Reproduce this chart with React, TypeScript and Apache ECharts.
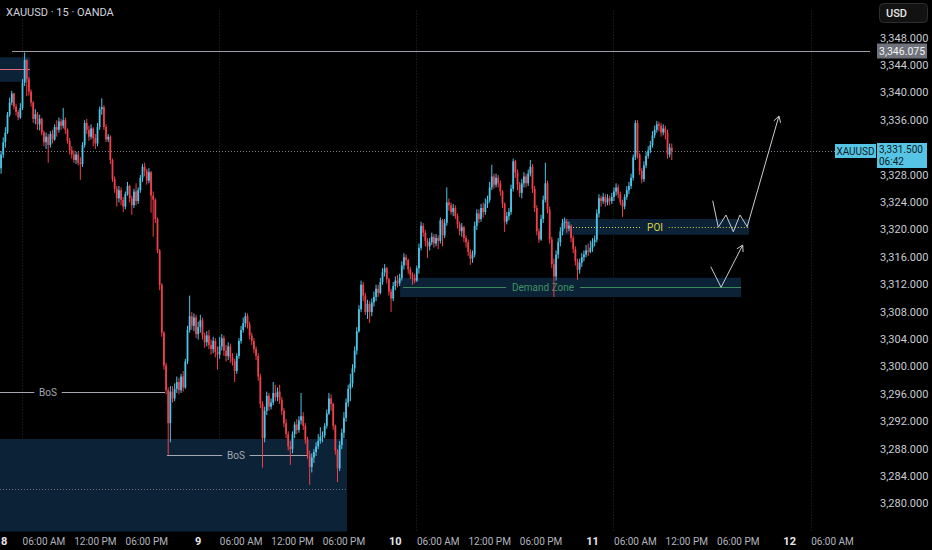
import React, { useEffect, useRef } from "react";
import * as echarts from "echarts";

// ---------- data (15-minute candles, XAUUSD, OANDA) ----------
const FIRST_OPEN = 3329.0;
const closes = [
  3331.0, 3332.8, 3334.2, 3336.8, 3338.6, 3339.9, 3338.0, 3337.2, 3336.4, 3337.8,
  3341.5, 3344.8, 3342.0, 3340.2, 3338.6, 3336.2, 3336.9, 3335.4, 3336.2, 3334.2,
  3332.8, 3333.6, 3332.4, 3334.0, 3333.2, 3335.0, 3334.6, 3335.8, 3335.2, 3336.0,
  3334.6, 3333.0, 3331.6, 3331.0, 3330.2, 3331.0, 3329.8, 3329.6, 3332.4, 3335.6,
  3334.6, 3333.6, 3334.8, 3333.4, 3332.6, 3335.0, 3337.6, 3337.9, 3335.0, 3333.2,
  3333.6, 3330.2, 3327.4, 3326.0, 3324.6, 3325.8, 3324.4, 3323.4, 3325.2, 3326.4,
  3324.6, 3323.6, 3325.6, 3324.2, 3325.8, 3327.6, 3329.2, 3328.6, 3327.2, 3328.4,
  3325.0, 3324.4, 3321.6, 3317.0, 3312.0, 3305.0, 3300.2, 3296.6, 3291.8, 3296.4,
  3295.4, 3296.8, 3297.8, 3296.6, 3298.6, 3297.0, 3300.8, 3305.4, 3307.4, 3306.0,
  3307.2, 3304.8, 3305.8, 3306.8, 3304.6, 3303.6, 3304.6, 3303.2, 3302.6, 3303.8,
  3302.2, 3301.8, 3303.0, 3304.2, 3302.4, 3301.6, 3303.0, 3301.4, 3300.8, 3299.4,
  3301.6, 3303.8, 3305.4, 3306.4, 3307.4, 3306.2, 3304.6, 3303.8, 3302.6, 3301.6,
  3298.6, 3294.6, 3289.6, 3293.6, 3295.8, 3294.2, 3294.8, 3296.2, 3295.6, 3296.4,
  3295.2, 3293.6, 3291.8, 3290.2, 3288.4, 3288.0, 3290.2, 3291.6, 3290.8, 3292.2,
  3292.8, 3291.4, 3289.4, 3287.2, 3285.4, 3286.8, 3287.6, 3288.4, 3289.2, 3289.8,
  3290.0, 3291.4, 3293.2, 3295.4, 3294.6, 3291.4, 3287.8, 3285.2, 3288.6, 3290.4,
  3292.6, 3294.8, 3296.8, 3297.6, 3299.8, 3302.4, 3305.2, 3308.4, 3312.0, 3310.4,
  3308.0, 3309.2, 3308.0, 3309.4, 3310.2, 3311.4, 3310.8, 3312.4, 3313.8, 3314.4,
  3312.8, 3311.0, 3310.0, 3311.8, 3312.6, 3312.2, 3313.0, 3314.8, 3316.0, 3315.6,
  3314.2, 3313.4, 3313.0, 3312.6, 3314.4, 3317.4, 3320.6, 3319.6, 3318.4, 3317.6,
  3318.2, 3319.0, 3318.0, 3318.8, 3318.4, 3321.4, 3319.2, 3321.0, 3324.0, 3323.6,
  3322.6, 3323.2, 3322.0, 3320.8, 3319.8, 3320.4, 3318.8, 3318.2, 3316.8, 3315.8,
  3316.4, 3320.6, 3322.4, 3321.6, 3323.2, 3322.6, 3323.8, 3324.4, 3326.2, 3327.8,
  3326.6, 3327.6, 3326.8, 3325.6, 3323.8, 3321.2, 3322.0, 3322.6, 3326.0, 3330.0,
  3328.4, 3326.6, 3325.4, 3326.8, 3327.8, 3326.8, 3328.2, 3329.2, 3326.0, 3323.2,
  3319.8, 3318.6, 3321.6, 3324.4, 3326.8, 3323.0, 3318.6, 3315.0, 3313.2, 3316.4,
  3318.2, 3319.8, 3321.0, 3321.2, 3320.2, 3320.6, 3318.8, 3317.2, 3315.4, 3314.2,
  3315.2, 3316.0, 3316.4, 3317.0, 3316.8, 3317.4, 3318.2, 3318.6, 3322.4, 3324.6,
  3324.2, 3324.8, 3324.0, 3324.6, 3324.2, 3324.8, 3325.6, 3326.2, 3325.2, 3324.0,
  3323.4, 3324.8, 3325.8, 3326.4, 3327.6, 3330.6, 3335.6, 3331.0, 3328.6, 3327.4,
  3329.4, 3330.8, 3331.6, 3332.4, 3333.8, 3334.6, 3335.4, 3335.2, 3334.2, 3334.8,
  3334.2, 3331.0, 3332.0, 3331.5,
];
const highs = [
  3331.5, 3333.5, 3335.0, 3337.2, 3339.3, 3340.3, 3340.0, 3338.4, 3337.5, 3338.5,
  3342.0, 3345.9, 3344.9, 3342.3, 3340.5, 3338.8, 3337.6, 3337.2, 3336.8, 3336.4,
  3334.5, 3334.2, 3334.0, 3334.4, 3334.6, 3335.4, 3336.0, 3336.4, 3336.2, 3337.8,
  3336.4, 3334.8, 3333.4, 3332.2, 3331.6, 3331.4, 3331.4, 3330.6, 3332.8, 3336.0,
  3336.2, 3335.2, 3335.4, 3335.0, 3334.0, 3335.6, 3338.0, 3339.2, 3338.2, 3335.4,
  3334.0, 3333.8, 3330.4, 3327.8, 3326.4, 3326.4, 3326.2, 3324.8, 3325.6, 3327.0,
  3326.6, 3325.0, 3326.0, 3326.8, 3326.2, 3328.0, 3329.6, 3329.8, 3328.9, 3329.0,
  3328.6, 3325.6, 3324.6, 3321.8, 3317.2, 3312.2, 3305.2, 3300.6, 3297.0, 3297.2,
  3297.2, 3297.6, 3298.6, 3298.4, 3299.0, 3299.4, 3301.2, 3306.0, 3310.4, 3308.0,
  3307.8, 3307.6, 3306.6, 3307.6, 3307.2, 3305.0, 3305.2, 3305.4, 3304.0, 3304.4,
  3304.2, 3303.0, 3304.4, 3304.8, 3304.6, 3303.2, 3303.6, 3303.4, 3302.0, 3301.2,
  3302.0, 3304.2, 3306.0, 3307.2, 3307.9, 3307.8, 3306.6, 3305.0, 3304.2, 3303.0,
  3302.0, 3299.0, 3295.0, 3294.2, 3296.4, 3296.2, 3295.4, 3297.8, 3297.4, 3297.0,
  3297.4, 3295.6, 3294.0, 3292.4, 3290.6, 3289.2, 3290.6, 3292.0, 3292.4, 3292.8,
  3296.2, 3293.4, 3291.8, 3289.8, 3287.8, 3287.4, 3288.0, 3289.0, 3290.2, 3291.2,
  3290.6, 3291.8, 3293.8, 3296.2, 3296.0, 3294.8, 3291.6, 3288.0, 3289.2, 3291.0,
  3293.4, 3295.4, 3297.4, 3299.0, 3300.4, 3303.0, 3305.8, 3309.0, 3312.6, 3312.4,
  3310.8, 3309.8, 3309.6, 3310.0, 3311.0, 3312.0, 3312.0, 3313.0, 3314.4, 3315.0,
  3314.6, 3313.0, 3311.4, 3312.4, 3313.2, 3313.4, 3313.6, 3315.4, 3316.6, 3316.4,
  3315.8, 3314.6, 3313.8, 3313.6, 3314.8, 3318.0, 3321.2, 3321.0, 3320.0, 3318.8,
  3318.8, 3319.6, 3319.4, 3319.4, 3319.2, 3321.8, 3321.6, 3321.6, 3326.2, 3324.6,
  3324.0, 3323.8, 3323.6, 3322.4, 3321.2, 3321.0, 3320.6, 3319.2, 3318.6, 3317.2,
  3317.0, 3321.2, 3323.0, 3323.0, 3323.8, 3324.0, 3324.6, 3325.0, 3327.0, 3329.5,
  3328.2, 3328.2, 3328.0, 3327.2, 3325.8, 3324.0, 3322.6, 3323.2, 3326.6, 3330.4,
  3330.2, 3328.8, 3327.0, 3327.4, 3328.4, 3328.2, 3328.8, 3330.2, 3329.6, 3326.4,
  3323.6, 3320.2, 3322.2, 3325.0, 3329.8, 3327.2, 3323.4, 3319.0, 3315.8, 3317.0,
  3318.8, 3320.4, 3321.6, 3321.8, 3321.6, 3321.2, 3320.8, 3319.2, 3317.6, 3315.8,
  3315.8, 3316.6, 3317.0, 3317.8, 3318.0, 3318.4, 3318.8, 3319.2, 3323.0, 3325.2,
  3325.0, 3325.4, 3325.2, 3325.2, 3325.0, 3325.4, 3326.2, 3326.8, 3326.6, 3325.6,
  3324.4, 3325.2, 3326.4, 3327.0, 3328.2, 3331.0, 3336.0, 3336.0, 3331.2, 3329.0,
  3330.0, 3331.4, 3332.2, 3333.0, 3334.4, 3335.2, 3335.9, 3335.8, 3335.6, 3335.4,
  3335.2, 3334.6, 3332.6, 3332.6,
];
const lows = [
  3328.2, 3330.5, 3332.0, 3334.0, 3336.5, 3338.2, 3337.6, 3336.7, 3336.0, 3336.2,
  3337.5, 3341.0, 3339.5, 3339.6, 3338.0, 3335.6, 3335.4, 3334.6, 3334.5, 3333.8,
  3332.2, 3331.8, 3329.8, 3332.0, 3332.6, 3333.0, 3333.6, 3334.2, 3334.6, 3334.8,
  3334.0, 3332.6, 3331.0, 3330.4, 3329.8, 3329.6, 3329.4, 3327.3, 3329.2, 3332.0,
  3334.0, 3333.0, 3333.2, 3332.2, 3331.8, 3332.2, 3334.6, 3336.8, 3334.6, 3332.8,
  3332.8, 3329.6, 3327.0, 3325.4, 3323.4, 3324.0, 3323.6, 3322.6, 3323.0, 3325.0,
  3324.0, 3322.2, 3323.2, 3323.6, 3323.8, 3325.4, 3327.0, 3327.8, 3326.6, 3326.8,
  3322.5, 3319.0, 3321.0, 3316.6, 3311.2, 3304.4, 3299.6, 3296.0, 3287.2, 3289.0,
  3294.8, 3295.0, 3296.2, 3296.0, 3296.2, 3296.4, 3296.8, 3300.4, 3305.0, 3305.4,
  3305.2, 3304.2, 3304.0, 3305.0, 3304.0, 3302.8, 3303.0, 3302.6, 3301.8, 3302.0,
  3301.4, 3299.6, 3301.2, 3302.4, 3301.6, 3300.8, 3301.0, 3300.6, 3300.2, 3297.8,
  3299.0, 3301.2, 3303.4, 3305.0, 3305.8, 3305.6, 3304.0, 3303.2, 3302.0, 3301.0,
  3298.0, 3294.0, 3285.3, 3289.0, 3293.0, 3293.6, 3293.8, 3294.4, 3295.0, 3295.0,
  3294.6, 3293.0, 3291.2, 3289.6, 3287.8, 3285.7, 3287.4, 3289.6, 3290.2, 3290.4,
  3291.6, 3290.8, 3288.8, 3286.6, 3282.8, 3284.6, 3286.0, 3287.0, 3288.0, 3288.8,
  3289.0, 3289.6, 3291.0, 3293.0, 3293.6, 3290.8, 3287.2, 3283.2, 3284.8, 3288.0,
  3289.6, 3292.0, 3294.2, 3295.0, 3297.0, 3299.2, 3301.8, 3305.0, 3308.0, 3309.6,
  3307.6, 3307.0, 3306.4, 3307.4, 3308.8, 3309.6, 3310.2, 3310.6, 3312.0, 3313.2,
  3312.2, 3310.4, 3308.0, 3309.6, 3311.2, 3311.6, 3311.8, 3312.6, 3314.2, 3314.8,
  3313.6, 3312.8, 3312.0, 3312.2, 3312.4, 3313.6, 3317.0, 3319.0, 3317.6, 3315.9,
  3317.0, 3317.8, 3317.4, 3317.6, 3317.2, 3318.0, 3317.6, 3318.8, 3320.6, 3322.8,
  3322.2, 3322.0, 3321.6, 3320.2, 3319.2, 3319.0, 3318.2, 3317.4, 3316.2, 3314.9,
  3315.2, 3316.0, 3320.0, 3321.0, 3321.2, 3321.8, 3322.2, 3323.2, 3324.0, 3325.8,
  3326.0, 3326.2, 3326.2, 3325.0, 3323.2, 3319.7, 3320.8, 3321.4, 3322.2, 3325.6,
  3327.6, 3325.8, 3324.8, 3324.6, 3326.2, 3326.2, 3326.4, 3327.8, 3325.4, 3322.6,
  3319.2, 3318.1, 3318.4, 3321.0, 3324.0, 3322.4, 3318.0, 3314.4, 3310.2, 3312.6,
  3315.8, 3317.6, 3319.2, 3320.2, 3319.6, 3319.8, 3318.2, 3316.6, 3314.8, 3312.7,
  3313.6, 3314.6, 3315.4, 3316.0, 3316.2, 3316.6, 3316.8, 3317.6, 3318.2, 3321.8,
  3323.4, 3323.8, 3323.4, 3323.6, 3323.6, 3323.8, 3324.2, 3325.0, 3324.6, 3323.6,
  3321.9, 3323.0, 3324.4, 3325.2, 3326.0, 3327.2, 3330.2, 3330.4, 3328.0, 3326.8,
  3327.0, 3329.0, 3330.4, 3331.2, 3332.0, 3333.4, 3334.2, 3334.4, 3333.6, 3333.8,
  3333.2, 3330.4, 3330.6, 3330.2,
];

// time axis: 92 bars per trading day (23h), slots incl. empty future space
const TOTAL_SLOTS = 406;
const BARS_PER_DAY = 92;
const FIRST_DAY = 8;
const TIME_LABELS: Record<number, string> = { 20: "06:00 AM", 44: "12:00 PM", 68: "06:00 PM" };

// price axis
const Y_MIN = 3276;
const Y_MAX = 3352;
const Y_STEP = 4;
const Y_LABEL_MIN = 3280;
const Y_LABEL_MAX = 3348;

const LAST_PRICE = 3331.5;
const LAST_PRICE_TEXT = "3,331.500";
const COUNTDOWN = "06:42";
const RESISTANCE = 3346.075;
const SYMBOL = "XAUUSD";

// drawings, in (bar index, price)
const zones = [
  { x0: -0.5, x1: 13.5, y0: 3341.6, y1: 3345.2 },
  { x0: -0.5, x1: 161.4, y0: 3276, y1: 3289.5 },
  { x0: 186.2, x1: 345.3, y0: 3310.2, y1: 3313.0 },
  { x0: 261.8, x1: 349.0, y0: 3319.3, y1: 3321.6 },
];
const bosLevels = [
  { x0: -0.5, x1: 76.5, y: 3296.3, tx: 21.9 },
  { x0: 77.4, x1: 142.8, y: 3287.2, tx: 109.6 },
];
const DEMAND = { x0: 187.6, x1: 345.3, y: 3311.7, tx: 252.9 };
const POI = { x0: 265.5, x1: 349.0, y: 3320.4, tx: 305.2 };
const TOPLEFT_LINE = { x0: -0.5, x1: 13.5, y: 3343.5 };
const BOX_DOTTED = { x0: -0.5, x1: 161.4, y: 3282.2 };
const RES_START = 5.1;
const sessionLines = [9.75, 101.75, 193.75, 285.75, 377.75];
const pathA = [
  [332.1, 3324.26], [334.7, 3320.38], [338.3, 3322.17], [341.7, 3319.73],
  [344.8, 3322.17], [348.2, 3320.46], [363.0, 3336.62],
];
const pathB = [[331.2, 3314.63], [336.0, 3311.62], [346.1, 3317.79]];

const UP = "#4fc4e6";
const DOWN = "#ee3f4b";
const FONT = 'Roboto, "Noto Sans", sans-serif';

function fmtPrice(v: number) {
  const s = v.toFixed(3);
  const [a, b] = s.split(".");
  return a.replace(/\B(?=(\d{3})+(?!\d))/g, ",") + "." + b;
}

export default function App() {
  const ref = useRef<HTMLDivElement>(null);
  useEffect(() => {
    document.body.style.margin = "0";
    document.body.style.background = "#000";
    const chart = echarts.init(ref.current!, undefined, { renderer: "svg" });

    const candles = closes.map((c, i) => {
      const o = i === 0 ? FIRST_OPEN : closes[i - 1];
      return [i, o, c, Math.min(lows[i], o, c), Math.max(highs[i], o, c)];
    });
    const cats = Array.from({ length: TOTAL_SLOTS }, (_, i) => String(i));

    const labelFor = (i: number): string | null => {
      const off = i % BARS_PER_DAY;
      if (off === 0) return "{d|" + (FIRST_DAY + Math.floor(i / BARS_PER_DAY)) + "}";
      if (TIME_LABELS[off]) return TIME_LABELS[off];
      return null;
    };

    const renderCandle = (_params: any, api: any) => {
      const i = api.value(0), o = api.value(1), c = api.value(2), l = api.value(3), h = api.value(4);
      const po = api.coord([i, o]);
      const pc = api.coord([i, c]);
      const pl = api.coord([i, l]);
      const ph = api.coord([i, h]);
      const xc = po[0];
      const color = c >= o ? UP : DOWN;
      const top = Math.min(po[1], pc[1]);
      const hgt = Math.max(1, Math.abs(po[1] - pc[1]));
      const bw = 1.8;
      return {
        type: "group",
        children: [
          { type: "line", shape: { x1: xc, y1: ph[1], x2: xc, y2: pl[1] }, style: { stroke: color, lineWidth: 1 } },
          { type: "rect", shape: { x: xc - bw / 2, y: top, width: bw, height: hgt }, style: { fill: color } },
        ],
      };
    };

    const renderDrawings = (params: any, api: any) => {
      const cs = params.coordSys;
      const right = cs.x + cs.width;
      const top = cs.y;
      const bottom = cs.y + cs.height;
      const P = (x: number, y: number) => api.coord([x, y]);
      const ch: any[] = [];
      const hline = (x0: number, x1: number, y: number, stroke: string, dash?: number[], w = 1) => {
        const a = P(x0, y), b = P(x1, y);
        ch.push({ type: "line", shape: { x1: a[0], y1: Math.round(a[1]) + 0.5, x2: b[0], y2: Math.round(a[1]) + 0.5 }, style: { stroke, lineWidth: w, lineDash: dash } });
      };
      const gapLine = (x0: number, x1: number, y: number, tx: number, text: string, stroke: string, color: string, dash?: number[]) => {
        const a = P(x0, y), b = P(x1, y), t = P(tx, y);
        const half = text.length * 2.9 + 5;
        const yy = Math.round(a[1]) + 0.5;
        ch.push({ type: "line", shape: { x1: a[0], y1: yy, x2: t[0] - half, y2: yy }, style: { stroke, lineWidth: 1, lineDash: dash } });
        ch.push({ type: "line", shape: { x1: t[0] + half, y1: yy, x2: b[0], y2: yy }, style: { stroke, lineWidth: 1, lineDash: dash } });
        ch.push({ type: "text", x: t[0], y: yy, style: { text, fill: color, fontSize: 10, fontFamily: FONT, align: "center", verticalAlign: "middle" } });
      };
      const arrowPath = (pts: number[][]) => {
        const px = pts.map((p) => P(p[0], p[1]));
        ch.push({ type: "polyline", shape: { points: px }, style: { stroke: "#c9ccd3", lineWidth: 1, fill: null } });
        const tip = px[px.length - 1], prev = px[px.length - 2];
        const dx = prev[0] - tip[0], dy = prev[1] - tip[1];
        const len = Math.hypot(dx, dy);
        const ux = dx / len, uy = dy / len;
        const L = 7, c = Math.cos(Math.PI / 6), s = Math.sin(Math.PI / 6);
        const a1 = [tip[0] + L * (ux * c - uy * s), tip[1] + L * (ux * s + uy * c)];
        const a2 = [tip[0] + L * (ux * c + uy * s), tip[1] + L * (-ux * s + uy * c)];
        ch.push({ type: "polyline", shape: { points: [a1, tip, a2] }, style: { stroke: "#c9ccd3", lineWidth: 1, fill: null } });
      };

      sessionLines.forEach((sx) => {
        const x = Math.round(P(sx, Y_MIN)[0]) + 0.5;
        ch.push({ type: "line", shape: { x1: x, y1: top, x2: x, y2: bottom }, style: { stroke: "#2c2c2c", lineWidth: 1, lineDash: [1, 2] } });
      });
      zones.forEach((z) => {
        const a = P(z.x0, z.y1), b = P(z.x1, z.y0);
        ch.push({ type: "rect", shape: { x: a[0], y: a[1], width: b[0] - a[0], height: Math.min(b[1], bottom) - a[1] }, style: { fill: "#0b2237" } });
      });
      hline(TOPLEFT_LINE.x0, TOPLEFT_LINE.x1, TOPLEFT_LINE.y, "#e06a7c");
      hline(BOX_DOTTED.x0, BOX_DOTTED.x1, BOX_DOTTED.y, "#6d7079", [1, 2]);
      {
        const a = P(RES_START, RESISTANCE);
        const yy = Math.round(a[1]) + 0.5;
        ch.push({ type: "line", shape: { x1: a[0], y1: yy, x2: right, y2: yy }, style: { stroke: "#9a9da5", lineWidth: 1 } });
      }
      {
        const a = P(-0.5, LAST_PRICE);
        const yy = Math.round(a[1]) + 0.5;
        ch.push({ type: "line", shape: { x1: a[0], y1: yy, x2: right, y2: yy }, style: { stroke: "#7d8089", lineWidth: 1, lineDash: [1, 2] } });
      }
      bosLevels.forEach((b) => gapLine(b.x0, b.x1, b.y, b.tx, "BoS", "#a5a8b0", "#a5a8b0"));
      gapLine(DEMAND.x0, DEMAND.x1, DEMAND.y, DEMAND.tx, "Demand Zone", "#3c8a5c", "#3f9462");
      gapLine(POI.x0, POI.x1, POI.y, POI.tx, "POI", "#d9cf44", "#dcd346", [1, 2]);
      arrowPath(pathA);
      arrowPath(pathB);
      return { type: "group", children: ch };
    };

    // price tags drawn above candles
    const renderTags = (params: any, api: any) => {
      const cs = params.coordSys;
      const right = cs.x + cs.width;
      const ch: any[] = [];
      {
        const y = Math.round(api.coord([0, RESISTANCE])[1]);
        ch.push({ type: "rect", shape: { x: right + 7, y: y - 7.5, width: 50, height: 15 }, style: { fill: "#6f727b" } });
        ch.push({ type: "text", x: right + 9, y: y + 0.5, style: { text: fmtPrice(RESISTANCE), fill: "#f2f2f2", fontSize: 10.5, fontFamily: FONT, align: "left", verticalAlign: "middle" } });
      }
      {
        const y = Math.round(api.coord([0, LAST_PRICE])[1]);
        ch.push({ type: "rect", shape: { x: right - 35, y: y - 7, width: 41, height: 14 }, style: { fill: "#56c5e5" } });
        ch.push({ type: "text", x: right - 14.5, y: y + 0.5, style: { text: SYMBOL, fill: "#0d1b24", fontSize: 10, fontFamily: FONT, align: "center", verticalAlign: "middle" } });
        ch.push({ type: "rect", shape: { x: right + 7, y: y - 8, width: 50, height: 25 }, style: { fill: "#56c5e5" } });
        ch.push({ type: "text", x: right + 9, y: y - 2, style: { text: LAST_PRICE_TEXT, fill: "#0d1b24", fontSize: 10, fontFamily: FONT, align: "left", verticalAlign: "middle" } });
        ch.push({ type: "text", x: right + 9, y: y + 10.5, style: { text: COUNTDOWN, fill: "#0d1b24", fontSize: 10, fontFamily: FONT, align: "left", verticalAlign: "middle" } });
      }
      return { type: "group", children: ch };
    };

    chart.setOption({
      animation: false,
      backgroundColor: "#000000",
      grid: { left: 0, right: 62, top: 10.6, bottom: 18.6, containLabel: false, outerBoundsMode: "none" } as any,
      xAxis: [
        {
          type: "category",
          data: cats,
          boundaryGap: true,
          axisLine: { show: false },
          axisTick: { show: false },
          splitLine: { show: false },
          axisLabel: {
            interval: (idx: number) => labelFor(idx) !== null,
            formatter: (_v: string, idx: number) => labelFor(idx) || "",
            alignMinLabel: "left",
            color: "#b2b5be",
            fontSize: 10,
            fontFamily: FONT,
            margin: 5,
            rich: { d: { color: "#e6e8ec", fontSize: 11, fontWeight: "bold", fontFamily: FONT } },
          },
        },
        { type: "value", min: -0.5, max: TOTAL_SLOTS - 0.5, show: false, splitLine: { show: false } },
      ],
      yAxis: {
        type: "value",
        position: "right",
        min: Y_MIN,
        max: Y_MAX,
        interval: Y_STEP,
        axisLine: { show: false },
        axisTick: { show: false },
        splitLine: { show: false },
        axisLabel: {
          margin: 10,
          color: "#c9ccd3",
          fontSize: 11,
          fontFamily: FONT,
          formatter: (v: number) =>
            v < Y_LABEL_MIN || v > Y_LABEL_MAX || Math.abs(v - LAST_PRICE) < 2 ? "" : fmtPrice(v),
        },
      },
      graphic: [
        { type: "text", x: 6, y: 12, style: { text: "XAUUSD · 15 · OANDA", fill: "#d1d4dc", fontSize: 11, fontFamily: FONT, verticalAlign: "middle" } },
        { type: "rect", shape: { x: 879.5, y: 3.5, width: 48, height: 19, r: 4 }, style: { fill: "#121212", stroke: "#2e2e2e", lineWidth: 1 } },
        { type: "text", x: 886, y: 13, style: { text: "USD", fill: "#e6e6e6", fontSize: 11, fontFamily: FONT, fontWeight: 500, verticalAlign: "middle" } },
      ],
      series: [
        {
          type: "custom",
          xAxisIndex: 1,
          yAxisIndex: 0,
          clip: false,
          z: 1,
          data: [[0, 3300]],
          encode: { x: 0, y: 1 },
          renderItem: renderDrawings,
          silent: true,
        },
        {
          type: "custom",
          name: "XAUUSD",
          xAxisIndex: 0,
          yAxisIndex: 0,
          z: 3,
          data: candles,
          encode: { x: 0, y: [1, 2, 3, 4] },
          renderItem: renderCandle,
          silent: true,
        },
        {
          type: "custom",
          xAxisIndex: 1,
          yAxisIndex: 0,
          clip: false,
          z: 5,
          data: [[0, 3300]],
          encode: { x: 0, y: 1 },
          renderItem: renderTags,
          silent: true,
        },
      ],
    });
    return () => chart.dispose();
  }, []);
  return <div ref={ref} style={{ position: "absolute", left: 0, top: 0, width: 932, height: 550, background: "#000" }} />;
}
